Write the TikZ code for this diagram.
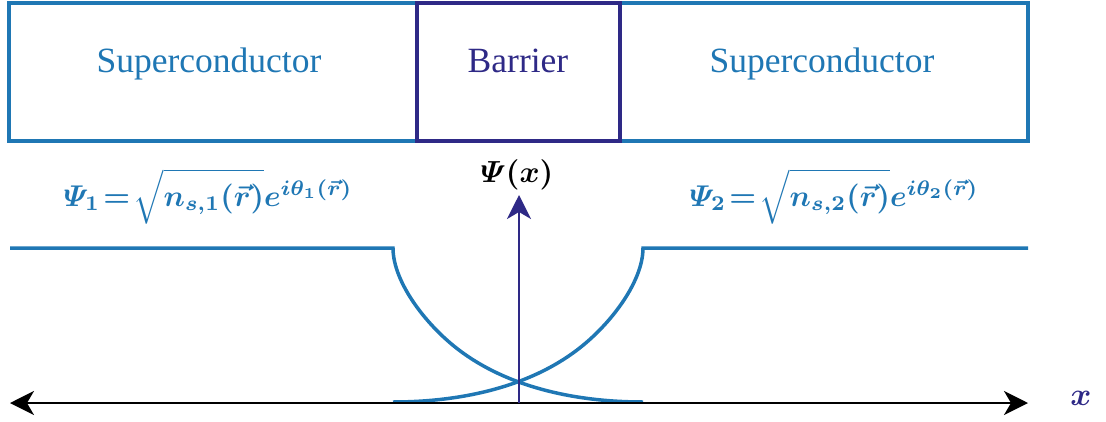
\documentclass[tikz,border=0pt]{standalone}
\usepackage{amsmath,bm}
\usepackage{fontspec}
\setmainfont{Liberation Serif}
\usetikzlibrary{arrows.meta}
\definecolor{scblue}{RGB}{31,119,180}
\definecolor{barpurple}{RGB}{46,41,134}
\tikzset{
  region/.style={draw=scblue, line width=3.5pt},
  barrierbox/.style={draw=barpurple, line width=3.5pt},
  boxlabel/.style={font=\fontsize{35.5}{40}\selectfont, anchor=base},
  eqlabel/.style={text=scblue, scale=3.0, inner sep=0pt},
  wave/.style={scblue, line width=3.5pt, line join=miter},
  axis/.style={black, line width=2pt, {Stealth[length=24pt,width=24pt,inset=7pt]}-{Stealth[length=24pt,width=24pt,inset=7pt]}},
  psiarrow/.style={barpurple, line width=2.2pt, -{Stealth[length=24pt,width=24pt,inset=7pt]}},
}
\begin{document}
\begin{tikzpicture}[x=1pt,y=-1pt]
\useasboundingbox (0,0) rectangle (1106,421);
% regions
\draw[region] (9,3) rectangle (417,141);
\draw[region] (620,3) rectangle (1028,141);
\draw[barrierbox] (417,3) rectangle (620,141);
\node[boxlabel, text=scblue] (sc1) at (209,72) {Superconductor};
\node[boxlabel, text=barpurple] (bar) at (518,72) {Barrier};
\node[boxlabel, text=scblue] (sc2) at (822,72) {Superconductor};
% equations
\node[eqlabel, anchor=base west] (eq1) at (63,206) {$\thickmuskip=2mu\relax \bm{\varPsi_1} \mathrel{\bm{=}} \sqrt{\vphantom{\big(}\bm{n_{s,1}(\vec{r})}}\bm{e^{i\theta_1(\vec{r})}}$};
\node[eqlabel, anchor=base west] (eq2) at (689,206) {$\thickmuskip=2mu\relax \bm{\varPsi_2} \mathrel{\bm{=}} \sqrt{\vphantom{\big(}\bm{n_{s,2}(\vec{r})}}\bm{e^{i\theta_2(\vec{r})}}$};
% wave functions
\draw[wave] (10,248) -- (393,248) .. controls (393,283) and (428,328) .. (463,353) .. controls (513,389) and (580,402) .. (643,402);
\draw[wave] (1028,248) -- (643,248) .. controls (643,283) and (608,328) .. (573,353) .. controls (523,389) and (456,402) .. (393,402);
% axes
\coordinate (L) at (10,403);
\coordinate (R) at (1028,403);
\coordinate (O) at (519,403);
\node[scale=3.05, inner sep=1pt] (psi) at (517,175) {$\bm{\varPsi(x)}$};
\node[scale=3.2, text=barpurple] (xl) at (1081,398) {$\bm{x}$};
\draw[axis] (L) -- (R);
\draw[psiarrow] (O) -- (519,195);
\end{tikzpicture}
\end{document}
